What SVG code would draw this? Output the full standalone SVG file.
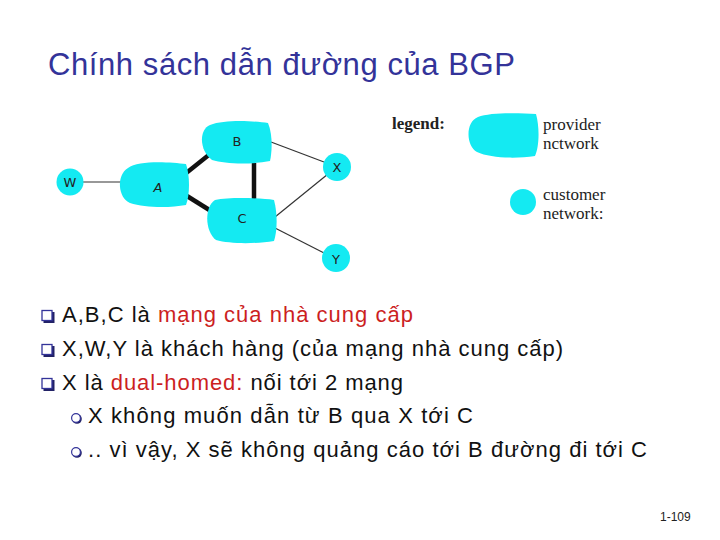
<svg xmlns="http://www.w3.org/2000/svg" width="720" height="540" viewBox="0 0 720 540">
<style>
.blob{fill:#14eaf2}
.lbl{font-family:"DejaVu Sans",sans-serif;font-size:13px;fill:#222;text-anchor:middle}
.thin{stroke:#333;stroke-width:1.2;fill:none}
.thick{stroke:#111;stroke-width:4.5;fill:none}
.leg{font-family:"Liberation Serif",serif;font-size:17px;fill:#222}
.body{font-family:"Liberation Sans",Arial,sans-serif;font-size:22px;fill:#111}
.red{fill:#cc1f1f}
.sq{fill:#fff;stroke:#333399;stroke-width:1.3}
.sh{fill:#222266}
</style>
<rect width="720" height="540" fill="#fff"/>
<text id="title" x="48" y="75" font-family="Liberation Sans,Arial,sans-serif" font-size="31" fill="#333399" textLength="467" lengthAdjust="spacing">Chính sách dẫn đường của BGP</text>

<g id="connectors">
<line class="thin" x1="83" y1="182" x2="121" y2="182"/>
<line class="thick" x1="185" y1="174" x2="210" y2="154"/>
<line class="thick" x1="187" y1="196" x2="211" y2="211"/>
<line class="thick" x1="254" y1="163" x2="254" y2="199"/>
<line class="thin" x1="271" y1="142" x2="324" y2="162"/>
<line class="thin" x1="275" y1="217" x2="328" y2="174"/>
<line class="thin" x1="275" y1="228" x2="326" y2="254"/>
</g>

<g id="node-W"><circle class="blob" cx="70" cy="182" r="13.5"/><text class="lbl" x="70" y="187">W</text></g>
<g id="node-A"><path class="blob" d="M128,168 C138,160 170,162 186,164 C190,175 190,195 186,205 C170,208 145,208 130,203 C118,198 116,175 128,168 Z"/><text class="lbl" x="158" y="192" font-style="italic">A</text></g>
<g id="node-B"><path class="blob" d="M210,125 C225,119 255,121 268,123 C273,135 272,152 270,161 C250,165 225,164 212,160 C200,152 198,130 210,125 Z"/><text class="lbl" x="237" y="146">B</text></g>
<g id="node-C"><path class="blob" d="M215,200 C230,197 260,198 274,200 C278,215 277,232 274,241 C255,244 230,244 216,240 C205,232 204,207 215,200 Z"/><text class="lbl" x="242" y="223">C</text></g>
<g id="node-X"><circle class="blob" cx="337" cy="167" r="14"/><text class="lbl" x="337" y="172">X</text></g>
<g id="node-Y"><circle class="blob" cx="336" cy="258" r="14"/><text class="lbl" x="336" y="264">Y</text></g>

<g id="legend">
<text class="leg" x="392" y="129" font-weight="bold">legend:</text>
<path class="blob" d="M478,117 C490,112 520,113 536,114 C540,128 539,148 535,156 C515,159 490,158 477,152 C466,146 465,122 478,117 Z"/>
<text class="leg" x="543" y="130">provider</text>
<text class="leg" x="543" y="149">nctwork</text>
<circle class="blob" cx="523" cy="202" r="13"/>
<text class="leg" x="543" y="200">customer</text>
<text class="leg" x="543" y="219">network:</text>
</g>

<g id="bullets">
<rect class="sh" x="43.5" y="312" width="11" height="11"/><rect class="sq" x="42" y="310.5" width="10" height="10"/>
<rect class="sh" x="43.5" y="346" width="11" height="11"/><rect class="sq" x="42" y="344.5" width="10" height="10"/>
<rect class="sh" x="43.5" y="380" width="11" height="11"/><rect class="sq" x="42" y="378.5" width="10" height="10"/>
<circle cx="77" cy="419" r="4.8" fill="#222266"/><circle cx="76" cy="418" r="4.4" fill="#fff" stroke="#333399" stroke-width="1.2"/>
<circle cx="77" cy="453" r="4.8" fill="#222266"/><circle cx="76" cy="452" r="4.4" fill="#fff" stroke="#333399" stroke-width="1.2"/>
<text class="body" x="62" y="322" textLength="351" lengthAdjust="spacing">A,B,C là <tspan class="red">mạng của nhà cung cấp</tspan></text>
<text class="body" x="62" y="356" textLength="501" lengthAdjust="spacing">X,W,Y là khách hàng (của mạng nhà cung cấp)</text>
<text class="body" x="62" y="390" textLength="341" lengthAdjust="spacing">X là <tspan class="red">dual-homed:</tspan> nối tới 2 mạng</text>
<text class="body" x="88" y="423" textLength="385" lengthAdjust="spacing">X không muốn dẫn từ B qua X tới C</text>
<text class="body" x="88" y="457" textLength="559" lengthAdjust="spacing">.. vì vậy, X sẽ không quảng cáo tới B đường đi tới C</text>
</g>
<text id="pagenum" x="660" y="521" font-family="Liberation Sans,Arial,sans-serif" font-size="12" fill="#222">1-109</text>
</svg>
